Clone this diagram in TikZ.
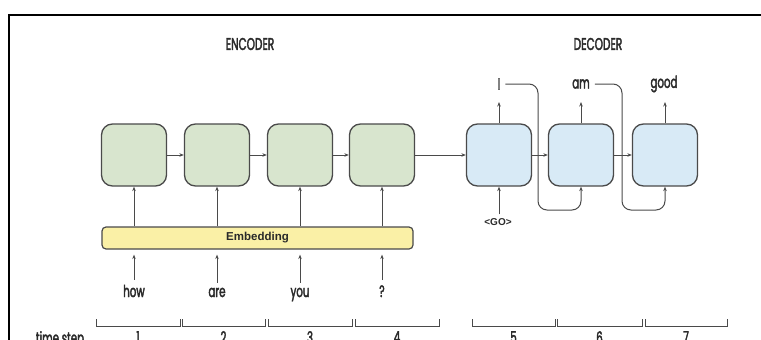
\documentclass[tikz,border=0pt]{standalone}
\usepackage{fontspec}
\usetikzlibrary{arrows.meta}
\newfontfamily\condfont[FakeStretch=0.62,FakeBold=2.2]{Poppins}
\newfontfamily\embfont{Liberation Sans}
\definecolor{lineg}{HTML}{4A4A4A}
\definecolor{txtg}{HTML}{2A2A2A}
\definecolor{encfill}{HTML}{D8E5CE}
\definecolor{decfill}{HTML}{D8EAF6}
\definecolor{embfill}{HTML}{FAF0A6}
\tikzset{
  cell/.style={draw=lineg, line width=1.3pt, rounded corners=11pt, minimum width=65pt, minimum height=62pt, inner sep=0pt},
  enccell/.style={cell, fill=encfill},
  deccell/.style={cell, fill=decfill},
  embbox/.style={draw=lineg, line width=1.2pt, fill=embfill, rounded corners=4pt, minimum width=311pt, minimum height=22pt, inner sep=0pt, font=\embfont\bfseries\fontsize{11.5}{12}\selectfont, text=txtg},
  arr/.style={draw=lineg, line width=1pt, -{Stealth[length=4.5pt,width=3.5pt]}},
  word/.style={font=\condfont\fontsize{16.5}{18}\selectfont, text=txtg, inner sep=0pt},
  title/.style={font=\condfont\fontsize{17}{19}\selectfont, text=txtg, inner sep=0pt},
  gotext/.style={font=\embfont\bfseries\fontsize{10}{11}\selectfont, text=txtg, inner sep=0pt},
  bracket/.style={draw=lineg, line width=1pt}
}
\begin{document}
\begin{tikzpicture}[x=1pt,y=-1pt]
\useasboundingbox (0,0) rectangle (761,340);
% frame
\draw[line width=2pt] (9,345) -- (9,15) -- (765,15);
% titles
\node[title] (enct) at (250,44) {ENCODER};
\node[title] (dect) at (598,44) {DECODER};
% encoder cells
\node[enccell] (e1) at (134,155) {};
\node[enccell] (e2) at (217,155) {};
\node[enccell] (e3) at (300,155) {};
\node[enccell] (e4) at (382,155) {};
% decoder cells
\node[deccell] (d5) at (499,155) {};
\node[deccell] (d6) at (581,155) {};
\node[deccell] (d7) at (665,155) {};
% embedding
\node[embbox] (emb) at (257.5,238) {Embedding};
% horizontal arrows
\draw[arr] (e1) -- (e2);
\draw[arr] (e2) -- (e3);
\draw[arr] (e3) -- (e4);
\draw[arr] (e4) -- (d5);
\draw[arr] (d5) -- (d6);
\draw[arr] (d6) -- (d7);
% embedding to encoder
\foreach \i in {1,2,3,4}{
  \draw[arr] (emb.north -| e\i) -- (e\i.south);
}
% input words
\node[word, anchor=base] (w1) at (134,297) {how};
\node[word, anchor=base] (w2) at (217,297) {are};
\node[word, anchor=base] (w3) at (300,297) {you};
\node[word, anchor=base] (w4) at (382,297) {?};
\foreach \i in {1,2,3,4}{
  \draw[arr, shorten <=5pt, shorten >=5pt] (w\i.north) -- (emb.south -| w\i);
}
% outputs
\node[word] (o5) at (499,84) {I};
\node[word] (o6) at (581,84) {am};
\node[word] (o7) at (664,84) {good};
\draw[arr] (d5.north) -- (d5.north |- 0,102);
\draw[arr] (d6.north) -- (d6.north |- 0,102);
\draw[arr] (d7.north) -- (d7.north |- 0,102);
% GO
\node[gotext] (go) at (498,222) {<GO>};
\draw[arr] (go.north -| d5) ++(0,-4) -- (d5.south);
% feedback
\coordinate (f5) at (538,210);
\coordinate (f6) at (622,210);
\draw[arr, rounded corners=9pt] ([xshift=5pt]o5.east) -| (f5) -| (d6.south);
\draw[arr, rounded corners=9pt] ([xshift=5pt]o6.east) -| (f6) -| (d7.south);
% time step brackets
\foreach \a/\b/\n in {96/180/1,182/265/2,268/352/3,355/439/4,472/555/5,557/642/6,645/727/7}{
  \draw[bracket] (\a,319) -- (\a,326) -- (\b,326) -- (\b,319);
  \node[word, anchor=north] at ({(\a+\b)/2},331) {\n};
}
\node[word, anchor=north] (ts) at (60,331) {time step};
\end{tikzpicture}
\end{document}
